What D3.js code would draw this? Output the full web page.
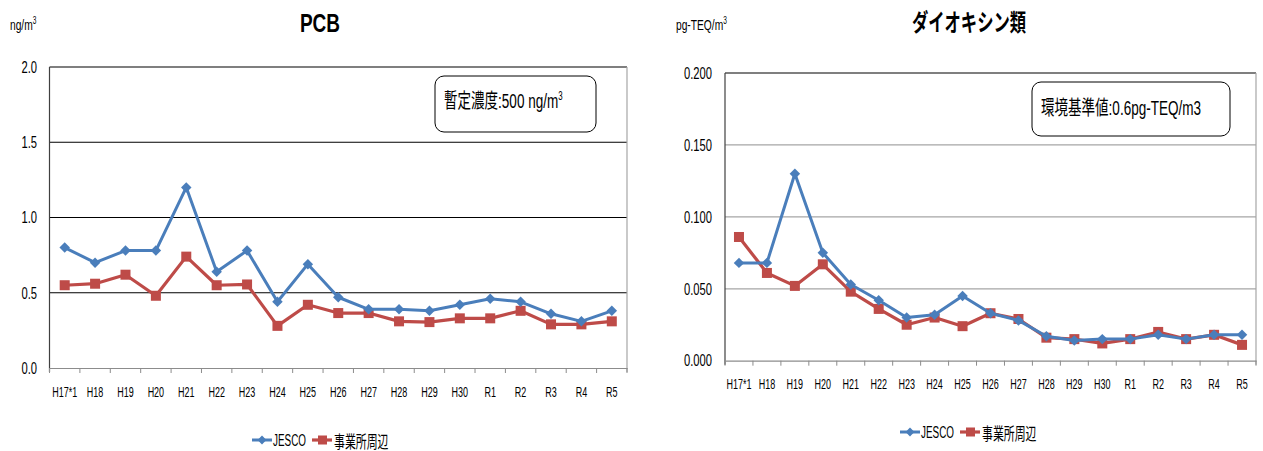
<!DOCTYPE html>
<html><head><meta charset="utf-8">
<script src="https://cdn.jsdelivr.net/npm/d3@7"></script>
<style>
body{margin:0;background:#fff;}
text{font-family:"Liberation Sans",Arial,sans-serif;}
.cjk{font-family:"Noto Sans CJK JP",sans-serif;}
</style></head><body>
<svg id="c" width="1263" height="451"></svg>
<script>
const categories = ["H17*1","H18","H19","H20","H21","H22","H23","H24","H25","H26","H27","H28","H29","H30","R1","R2","R3","R4","R5"];
const seriesNames = ["JESCO","事業所周辺"];
const pcbJesco = [0.80,0.70,0.78,0.78,1.20,0.64,0.78,0.44,0.69,0.47,0.39,0.39,0.38,0.42,0.46,0.44,0.36,0.31,0.38];
const pcbArea  = [0.55,0.56,0.62,0.48,0.74,0.55,0.555,0.28,0.42,0.365,0.365,0.31,0.305,0.33,0.33,0.38,0.29,0.29,0.31];
const dxnJesco = [0.068,0.068,0.130,0.075,0.053,0.042,0.030,0.032,0.045,0.033,0.028,0.017,0.014,0.015,0.015,0.018,0.015,0.018,0.018];
const dxnArea  = [0.086,0.061,0.052,0.067,0.048,0.036,0.025,0.030,0.024,0.033,0.029,0.016,0.015,0.012,0.015,0.020,0.015,0.018,0.011];
const pcbTicks = [0,0.5,1.0,1.5,2.0];
const dxnTicks = [0,0.05,0.10,0.15,0.20];

const svg = d3.select("#c");
const BLUE="#4a7ebb", RED="#be4b48";

function sq(sel,f){
  sel.each(function(){
    const t=d3.select(this);
    const x=+t.attr("x")||0, y=+t.attr("y")||0;
    t.attr("x",0).attr("y",0).attr("transform",`translate(${x},${y}) scale(${f},1)`);
  });
  return sel;
}

function chart(o){
  const g = svg.append("g");
  const x = d3.scaleBand().domain(categories).range([o.x0,o.x1]);
  const y = d3.scaleLinear().domain([0,o.max]).range([o.y0,o.y1]);
  g.selectAll(".grid").data(o.ticks.slice(1)).join("line")
    .attr("x1",o.x0).attr("x2",o.x1).attr("y1",d=>y(d)).attr("y2",d=>y(d))
    .attr("stroke",d=>d===o.max?"#000":o.grid).attr("stroke-width",1.2);
  g.append("line").attr("x1",o.x1).attr("x2",o.x1).attr("y1",o.y1).attr("y2",o.y0+4).attr("stroke","#a6a6a6").attr("stroke-width",1.2);
  const ya = d3.axisLeft(y).tickValues(o.ticks).tickFormat(d3.format(o.fmt)).tickSize(0).tickPadding(0);
  const yg = g.append("g").attr("transform",`translate(${o.ylx},0)`).call(ya);
  yg.select(".domain").remove();
  g.append("line").attr("x1",o.x0).attr("x2",o.x0).attr("y1",o.y1).attr("y2",o.y0+4).attr("stroke","#404040").attr("stroke-width",1.2);
  sq(yg.selectAll("text").attr("font-size",16.5).attr("fill","#000"),0.68);
  const xa = d3.axisBottom(x).tickSize(0).tickPadding(0);
  const xg = g.append("g").attr("transform",`translate(0,${o.y0})`).call(xa);
  xg.select(".domain").attr("stroke","#8c8c8c").attr("stroke-width",1.2);
  xg.selectAll("text").attr("font-size",15).attr("fill","#000").attr("dy",null).attr("y",o.xlb);
  sq(xg.selectAll("text"),0.6);
  const bounds = categories.map(c=>x(c)).concat([o.x1]);
  g.selectAll(".bt").data(bounds).join("line")
    .attr("x1",d=>d).attr("x2",d=>d).attr("y1",o.y0).attr("y2",o.y0+5).attr("stroke","#8c8c8c");
  const cx = c=>x(c)+x.bandwidth()/2;
  const line = d3.line().x((d,i)=>cx(categories[i])).y(d=>y(d));
  g.append("path").datum(o.s2).attr("d",line).attr("fill","none").attr("stroke",RED).attr("stroke-width",3.2).attr("stroke-linejoin","round");
  g.selectAll(".sq").data(o.s2).join("rect")
    .attr("x",(d,i)=>cx(categories[i])-5).attr("y",d=>y(d)-5).attr("width",10).attr("height",10).attr("fill",RED);
  g.append("path").datum(o.s1).attr("d",line).attr("fill","none").attr("stroke",BLUE).attr("stroke-width",3).attr("stroke-linejoin","round");
  g.selectAll(".dm").data(o.s1).join("path")
    .attr("d",d3.symbol(d3.symbolDiamond2,70)())
    .attr("transform",(d,i)=>`translate(${cx(categories[i])},${y(d)})`).attr("fill",BLUE);
  const tt = g.append("text").attr("x",o.tx).attr("y",o.ty).attr("text-anchor","middle").attr("font-weight","bold")
    .attr("font-size",o.titleCjk?24:25).attr("class",o.titleCjk?"cjk":null).text(o.title);
  sq(tt,o.titleCjk?0.68:0.76);
  const u = g.append("text").attr("x",o.ux).attr("y",o.uy).attr("font-size",15.5);
  u.append("tspan").text(o.unit);
  u.append("tspan").attr("dy",-6).attr("font-size",10).text("3");
  sq(u,0.66);
  g.append("rect").attr("x",o.bx).attr("y",o.by).attr("width",o.bw).attr("height",o.bh).attr("rx",9)
    .attr("fill","#fff").attr("stroke","#000").attr("stroke-width",1);
  const t = g.append("text").attr("x",o.ntx).attr("y",o.nty).attr("font-size",20.5);
  o.note.forEach(p=>{
    const ts = t.append("tspan").text(p.t);
    if(p.cjk) ts.attr("class","cjk");
    if(p.sup) ts.attr("dy",-8).attr("font-size",12);
  });
  sq(t,0.66);
  const lg = g.append("g").attr("transform",`translate(${o.lx},${o.ly})`);
  lg.append("line").attr("x1",0).attr("x2",20).attr("stroke",BLUE).attr("stroke-width",3);
  lg.append("path").attr("d",d3.symbol(d3.symbolDiamond2,50)()).attr("transform","translate(10,0)").attr("fill",BLUE);
  sq(lg.append("text").attr("x",21).attr("y",6).attr("font-size",16.5).text(seriesNames[0]),0.6);
  lg.append("line").attr("x1",60).attr("x2",80).attr("stroke",RED).attr("stroke-width",3.2);
  lg.append("rect").attr("x",66).attr("y",-4.5).attr("width",9).attr("height",9).attr("fill",RED);
  sq(lg.append("text").attr("x",82).attr("y",7.5).attr("class","cjk").attr("font-size",17).text(seriesNames[1]),0.64);
}

chart({x0:49.5,x1:627,y0:368,y1:67,max:2.0,ticks:pcbTicks,fmt:".1f",grid:"#000",ylx:37,xlb:29,
  s1:pcbJesco,s2:pcbArea,title:"PCB",tx:320,ty:32,ux:10,uy:30,unit:"ng/m",
  bx:435,by:76,bw:161,bh:56,ntx:444,nty:108,note:[{t:"暫定濃度",cjk:true},{t:":500 ng/m"},{t:"3",sup:true}],
  lx:252,ly:440});
chart({x0:725,x1:1256,y0:360.7,y1:73,max:0.2,ticks:dxnTicks,fmt:".3f",grid:"#a6a6a6",ylx:712,xlb:28,
  s1:dxnJesco,s2:dxnArea,title:"ダイオキシン類",titleCjk:true,tx:969,ty:31,ux:676,uy:30,unit:"pg-TEQ/m",
  bx:1032,by:82,bw:198,bh:54,ntx:1041,nty:115,note:[{t:"環境基準値",cjk:true},{t:":0.6pg-TEQ/m3"}],
  lx:900,ly:432});
</script></body></html>
